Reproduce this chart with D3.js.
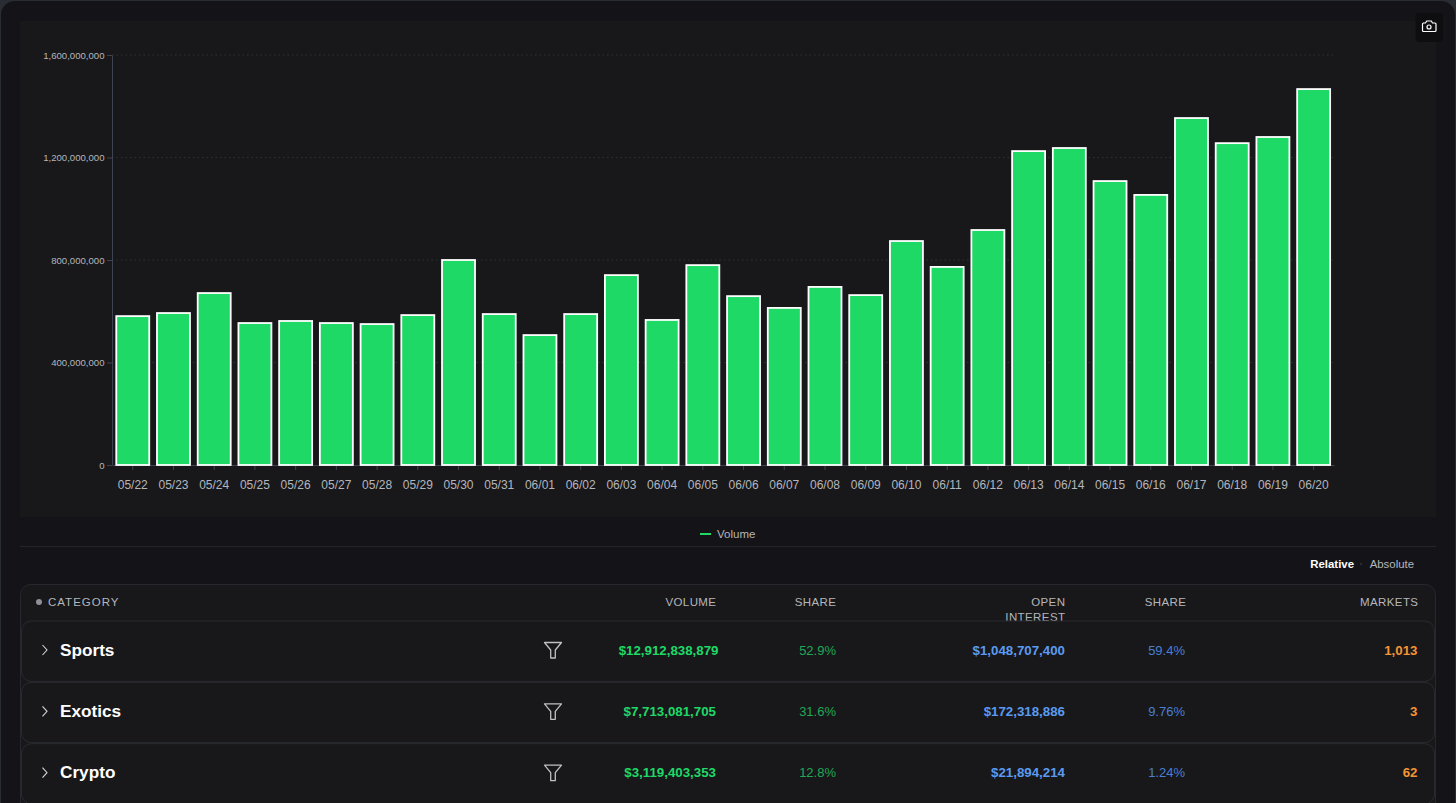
<!DOCTYPE html>
<html>
<head>
<meta charset="utf-8">
<script src="https://cdn.jsdelivr.net/npm/d3@7"></script>
<style>
  html, body { margin: 0; padding: 0; background: #2a2c33; overflow: hidden; }
  svg { display: block; font-family: "Liberation Sans", Arial, sans-serif; }
</style>
</head>
<body>
<svg id="chart" width="1456" height="803"></svg>
<script>
const days = ['05/22', '05/23', '05/24', '05/25', '05/26', '05/27', '05/28', '05/29', '05/30', '05/31',
  '06/01', '06/02', '06/03', '06/04', '06/05', '06/06', '06/07', '06/08', '06/09', '06/10',
  '06/11', '06/12', '06/13', '06/14', '06/15', '06/16', '06/17', '06/18', '06/19', '06/20'];
const volumes = [581e6, 593e6, 671e6, 554e6, 562e6, 554e6, 550e6, 585e6, 800e6, 589e6,
  507e6, 589e6, 741e6, 566e6, 780e6, 659e6, 613e6, 695e6, 663e6, 874e6,
  773e6, 917e6, 1225e6, 1237e6, 1108e6, 1054e6, 1354e6, 1256e6, 1280e6, 1467e6];
const yTicks = [0, 400e6, 800e6, 1200e6, 1600e6];

const categories = ['Sports', 'Exotics', 'Crypto'];
const catVolume = ['$12,912,838,879', '$7,713,081,705', '$3,119,403,353'];
const catVolumeShare = ['52.9%', '31.6%', '12.8%'];
const catOpenInterest = ['$1,048,707,400', '$172,318,886', '$21,894,214'];
const catOiShare = ['59.4%', '9.76%', '1.24%'];
const catMarkets = ['1,013', '3', '62'];

const svg = d3.select('#chart');
const green = '#1fd967';

// page + chart panel
svg.append('rect').attr('x', 1).attr('y', 1).attr('width', 1454).attr('height', 830).attr('rx', 14).attr('fill', '#131318');
svg.append('rect').attr('x', 20).attr('y', 21).attr('width', 1416).attr('height', 496).attr('fill', '#18181b');

const x = d3.scaleBand().domain(days).range([112.4, 1334]).paddingInner(0.19).paddingOuter(0.095);
const y = d3.scaleLinear().domain([0, 1600e6]).range([465, 55]);

// grid
svg.append('g').selectAll('line')
  .data(yTicks.slice(1))
  .join('line')
  .attr('x1', 112).attr('x2', 1333.6)
  .attr('y1', (d) => y(d)).attr('y2', (d) => y(d))
  .attr('stroke', '#2e3038')
  .attr('stroke-dasharray', '1.5 3');

// axes
const yAxis = svg.append('g').attr('transform', 'translate(112,0)')
  .call(d3.axisLeft(y).tickValues(yTicks).tickFormat(d3.format(',')).tickSize(5).tickSizeOuter(0).tickPadding(2.5));
const xAxis = svg.append('g').attr('transform', 'translate(0,465)')
  .call(d3.axisBottom(x).tickSize(5).tickSizeOuter(0).tickPadding(10));
[yAxis, xAxis].forEach((a) => {
  a.selectAll('.domain').attr('stroke', '#3d4350');
  a.selectAll('.tick line').attr('stroke', '#3d4350');
  a.attr('font-family', '"Liberation Sans", Arial, sans-serif');
});
yAxis.selectAll('text').attr('fill', '#b4b6bb').attr('font-size', 9.6);
xAxis.selectAll('text').attr('fill', '#b4b6bb').attr('font-size', 12);

// bars
svg.append('g').selectAll('rect')
  .data(days.map((d, i) => ({ day: d, value: volumes[i] })))
  .join('rect')
  .attr('x', (d) => x(d.day))
  .attr('y', (d) => y(d.value))
  .attr('width', x.bandwidth())
  .attr('height', (d) => y(0) - y(d.value))
  .attr('fill', green)
  .attr('stroke', '#ffffff')
  .attr('stroke-width', 1.8);

// camera button
const cam = svg.append('g').attr('transform', 'translate(1415.5,13)');
cam.append('rect').attr('width', 27.5).attr('height', 29).attr('rx', 4).attr('fill', '#0e0e11');
cam.append('path')
  .attr('d', 'M7.5 10h2.5l1.2-2h4.6l1.2 2h2.5a1 1 0 0 1 1 1v6.5a1 1 0 0 1-1 1h-11.5a1 1 0 0 1-1-1v-6.5a1 1 0 0 1 1-1z')
  .attr('fill', 'none').attr('stroke', '#fff').attr('stroke-width', 1.2);
cam.append('circle').attr('cx', 13.5).attr('cy', 14).attr('r', 2).attr('fill', 'none').attr('stroke', '#fff').attr('stroke-width', 1.2);

// legend
svg.append('line').attr('x1', 700).attr('x2', 711).attr('y1', 534).attr('y2', 534).attr('stroke', green).attr('stroke-width', 2);
svg.append('text').attr('x', 717).attr('y', 538).attr('fill', '#b4b6bb').attr('font-size', 11.5).text('Volume');
svg.append('line').attr('x1', 20).attr('x2', 1436).attr('y1', 546.5).attr('y2', 546.5).attr('stroke', '#24252b');

// relative / absolute switch
svg.append('text').attr('x', 1354).attr('y', 568).attr('text-anchor', 'end').attr('fill', '#fff').attr('font-size', 11.4).attr('font-weight', 700).text('Relative');
svg.append('circle').attr('cx', 1361).attr('cy', 564).attr('r', 0.8).attr('fill', '#4a4c52');
svg.append('text').attr('x', 1414).attr('y', 568).attr('text-anchor', 'end').attr('fill', '#b4b6bb').attr('font-size', 11.4).text('Absolute');

// table
const table = svg.append('g');
table.append('rect').attr('x', 20.5).attr('y', 584.5).attr('width', 1415).attr('height', 260).attr('rx', 10)
  .attr('fill', '#18181b').attr('stroke', '#27282d');

table.append('circle').attr('cx', 39).attr('cy', 602).attr('r', 3).attr('fill', '#8f9096');
const headers = [
  { t: 'CATEGORY', x: 48, a: 'start', y: 606, ls: 1 },
  { t: 'VOLUME', x: 716.4, a: 'end', y: 606, ls: 0.4 },
  { t: 'SHARE', x: 836.4, a: 'end', y: 606, ls: 0.4 },
  { t: 'OPEN', x: 1065.4, a: 'end', y: 606, ls: 0.4 },
  { t: 'INTEREST', x: 1065.4, a: 'end', y: 621, ls: 0.4 },
  { t: 'SHARE', x: 1186.4, a: 'end', y: 606, ls: 0.4 },
  { t: 'MARKETS', x: 1418.4, a: 'end', y: 606, ls: 0.4 },
];
table.selectAll('text.head')
  .data(headers)
  .join('text')
  .attr('class', 'head')
  .attr('x', (d) => d.x).attr('y', (d) => d.y)
  .attr('text-anchor', (d) => d.a)
  .attr('fill', '#b4b6bb').attr('font-size', 11.5).attr('letter-spacing', (d) => d.ls)
  .text((d) => d.t);

const rowY = d3.scaleBand().domain(categories).range([620.5, 804.5]);
const rows = table.selectAll('g.row')
  .data(categories.map((c, i) => ({
    name: c, vol: catVolume[i], volShare: catVolumeShare[i], oi: catOpenInterest[i], oiShare: catOiShare[i], markets: catMarkets[i],
  })))
  .join('g')
  .attr('class', 'row')
  .attr('transform', (d) => `translate(0,${rowY(d.name)})`);

rows.append('rect').attr('x', 21.5).attr('y', 0.5).attr('width', 1413).attr('height', rowY.bandwidth() - 1).attr('rx', 10)
  .attr('fill', '#18181b').attr('stroke', '#2a2b30');
rows.append('path').attr('d', 'M42.5 24.5l4.5 5-4.5 5').attr('fill', 'none').attr('stroke', '#d4d5d8').attr('stroke-width', 1.1);
rows.append('text').attr('x', 60).attr('y', 35).attr('fill', '#fff').attr('font-size', 17.2).attr('font-weight', 700).text((d) => d.name);
rows.append('path')
  .attr('d', 'M544.5 22h17l-6.2 7.5v8h-4.6v-8z')
  .attr('fill', 'none').attr('stroke', '#bfc0c4').attr('stroke-width', 1.3).attr('stroke-linejoin', 'round');

const cell = (key, xPos, fill, weight, size) => rows.append('text')
  .attr('x', xPos).attr('y', 34).attr('text-anchor', 'end')
  .attr('fill', fill).attr('font-size', size).attr('font-weight', weight)
  .text((d) => d[key]);
// the Sports volume sits a little further right in the source
cell('vol', 716, green, 700, 13.3).attr('x', (d, i) => (i === 0 ? 718.5 : 716));
cell('volShare', 836, '#1fa855', 400, 13);
cell('oi', 1065, '#5b9bf0', 700, 13.3);
cell('oiShare', 1185, '#4a7fd1', 400, 13);
cell('markets', 1417.5, '#f59433', 700, 13.3);
</script>
</body>
</html>
